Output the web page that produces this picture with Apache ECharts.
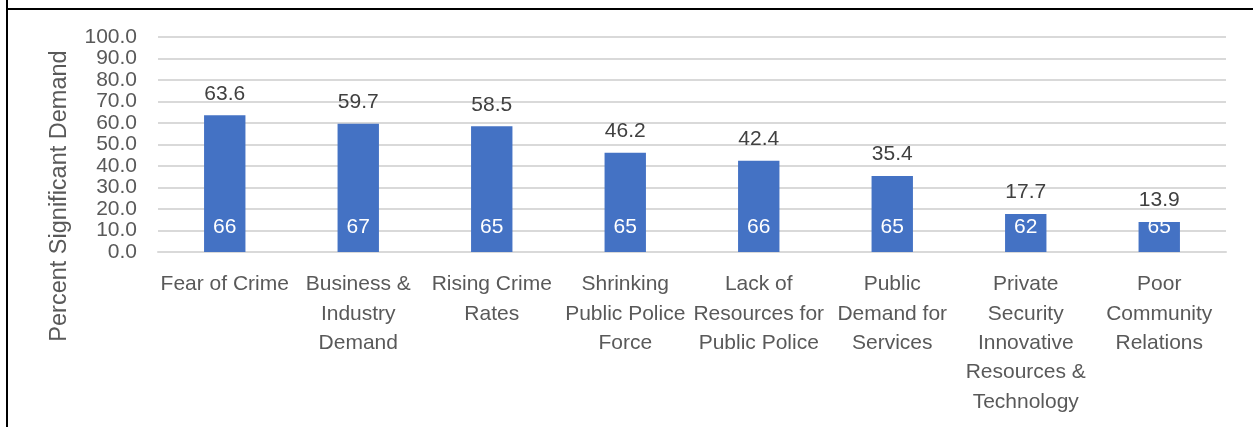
<!DOCTYPE html>
<html><head><meta charset="utf-8">
<script src="https://cdn.jsdelivr.net/npm/echarts@6/dist/echarts.min.js"></script>
<style>html,body{margin:0;padding:0;background:#fff}#c{width:1253px;height:427px}</style>
</head><body><div id="c"></div>
<script>
const categories = ["Fear of Crime", "Business &\nIndustry\nDemand", "Rising Crime\nRates", "Shrinking\nPublic Police\nForce", "Lack of\nResources for\nPublic Police", "Public\nDemand for\nServices", "Private\nSecurity\nInnovative\nResources &\nTechnology", "Poor\nCommunity\nRelations"];
const percentValues = [63.6, 59.7, 58.5, 46.2, 42.4, 35.4, 17.7, 13.9];
const sampleSizes = [66, 67, 65, 65, 66, 65, 62, 65];
const yTicks = [0, 100, 10];
const axisTitle = "Percent Significant Demand";

const FONT = "Liberation Sans";
const chart = echarts.init(document.getElementById('c'), null, {renderer: 'canvas'});
chart.setOption({
  animation: false,
  textStyle: {fontFamily: FONT},
  grid: {left: 158, right: 27, top: 37, bottom: 175, containLabel: false},
  xAxis: {
    type: 'category', data: categories,
    axisLine: {show: true, lineStyle: {color: '#D9D9D9', width: 2}},
    axisTick: {show: false},
    axisLabel: {color: '#595959', fontSize: 21, lineHeight: 29.3, margin: 18, interval: 0, fontFamily: FONT}
  },
  yAxis: {
    type: 'value', min: yTicks[0], max: yTicks[1], interval: yTicks[2],
    axisLine: {show: false}, axisTick: {show: false},
    axisLabel: {color: '#595959', fontSize: 21, margin: 21, showMinLabel: true, showMaxLabel: true, hideOverlap: false,
                formatter: v => v.toFixed(1), fontFamily: FONT},
    splitLine: {lineStyle: {color: '#D9D9D9', width: 2}}
  },
  graphic: [
    {type: 'line', shape: {x1: 7, y1: 0, x2: 7, y2: 427}, style: {stroke: '#000', lineWidth: 2}},
    {type: 'line', shape: {x1: 7, y1: 9, x2: 1253, y2: 9}, style: {stroke: '#000', lineWidth: 2}},
    {type: 'text', x: 60, y: 196, rotation: Math.PI / 2,
     style: {text: axisTitle, fill: '#595959', font: '23.5px "' + FONT + '"', textAlign: 'center', textVerticalAlign: 'middle'}}
  ],
  series: [
    {
      type: 'bar', data: percentValues, barWidth: '31%',
      itemStyle: {color: '#4472C4'},
      label: {show: true, position: 'top', distance: 11, color: '#404040', fontSize: 21, formatter: p => p.value.toFixed(1)}
    },
    {
      type: 'bar', data: percentValues, barWidth: '31%', barGap: '-100%', silent: true,
      itemStyle: {color: 'rgba(0,0,0,0)'},
      label: {show: true, position: 'insideBottom', distance: 14, color: '#ffffff', fontSize: 21,
              formatter: p => String(sampleSizes[p.dataIndex])}
    }
  ]
});
</script></body></html>
